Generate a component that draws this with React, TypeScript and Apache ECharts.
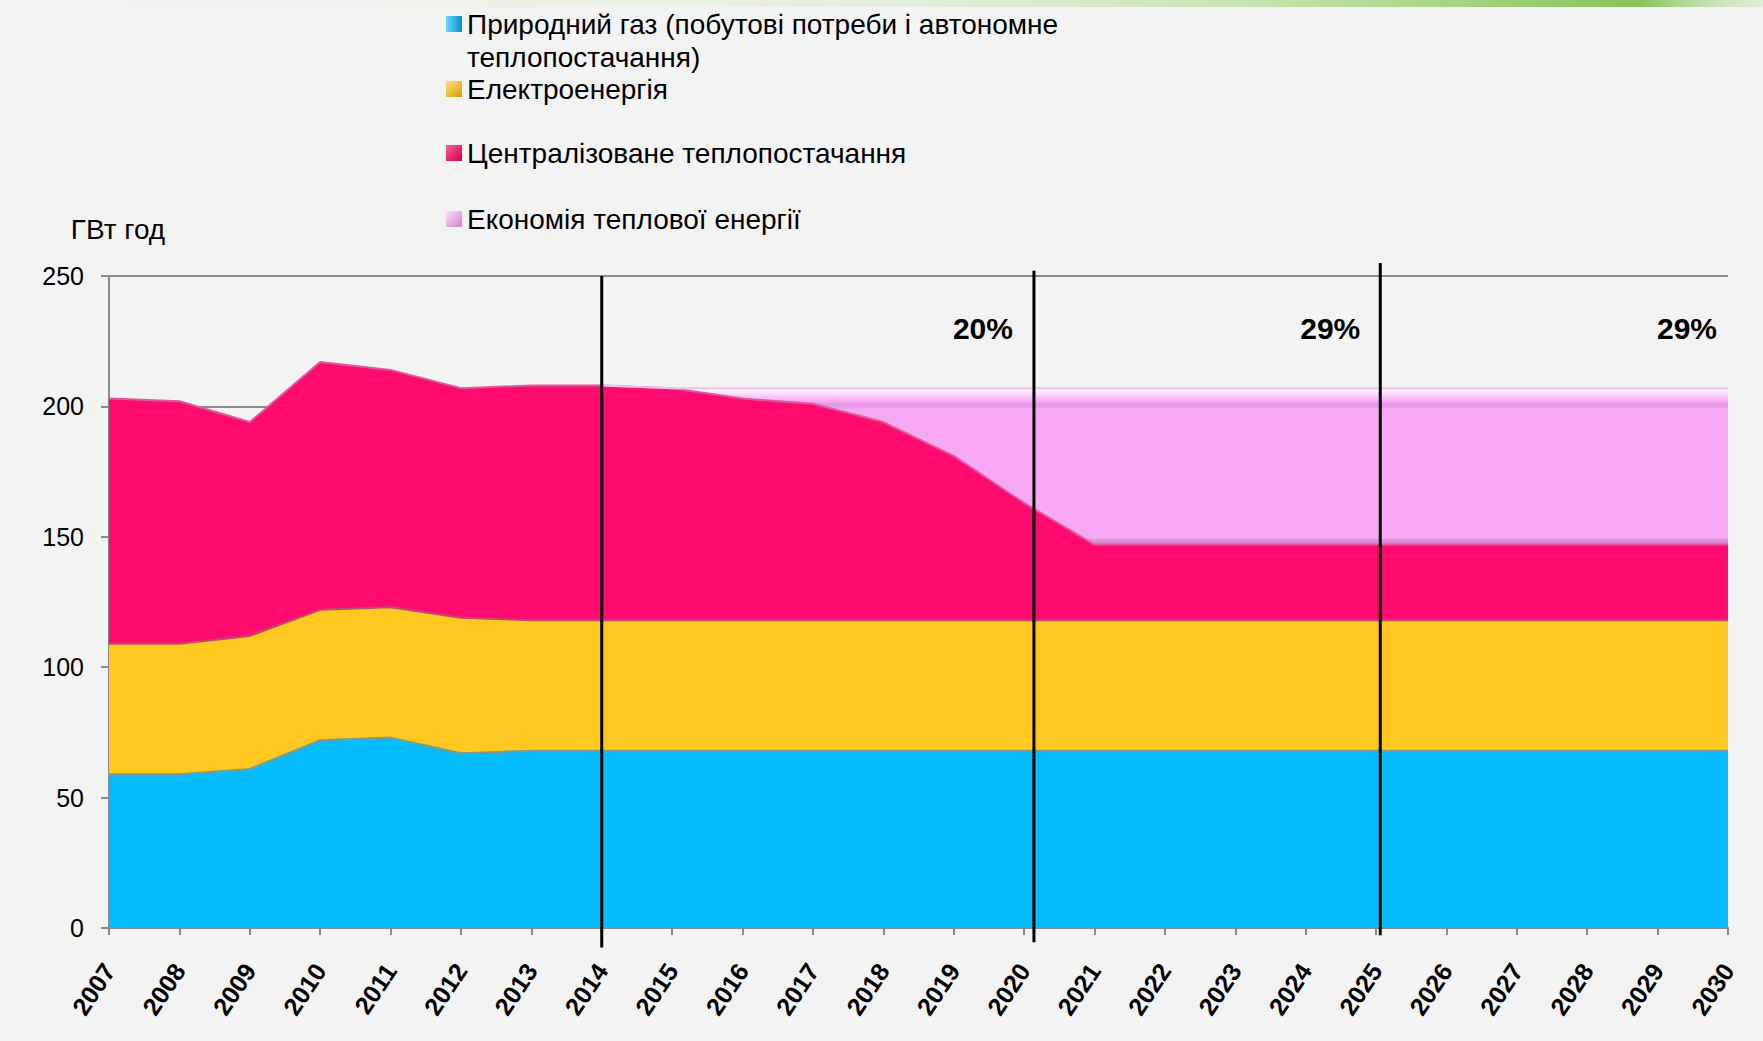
import React, { useEffect, useRef } from "react";
import * as echarts from "echarts";

const years = [
  "2007", "2008", "2009", "2010", "2011", "2012", "2013", "2014", "2015", "2016", "2017", "2018",
  "2019", "2020", "2021", "2022", "2023", "2024", "2025", "2026", "2027", "2028", "2029", "2030",
];

const gasName = "Природний газ (побутові потреби і автономне теплопостачання)";
const elecName = "Електроенергія";
const heatName = "Централізоване теплопостачання";
const saveName = "Економія теплової енергії";

const gas = [59, 59, 61, 72, 73, 67, 68, 68, 68, 68, 68, 68, 68, 68, 68, 68, 68, 68, 68, 68, 68, 68, 68, 68];
const electricity = [50, 50, 51, 50, 50, 52, 50, 50, 50, 50, 50, 50, 50, 50, 50, 50, 50, 50, 50, 50, 50, 50, 50, 50];
const districtHeating = [94, 93, 82, 95, 91, 88, 90, 90, 89, 85, 83, 76, 63, 45, 29, 29, 29, 29, 29, 29, 29, 29, 29, 29];
const savings = [null, null, null, null, null, null, null, 0, 0, 4, 6, 13, 26, 44, 60, 60, 60, 60, 60, 60, 60, 60, 60, 60];

const yTicks = [0, 50, 100, 150, 200, 250];

// annotations: divider lines (category position incl. fraction, value extent)
const dividerAt = [7.0, 13.14, 18.06];
const dividerTop = [250, 252, 255];
const dividerBottom = [-7.5, -5.5, -2.8];
const pctLabels = ["20%", "29%", "29%"];
const pctAt = [13.14, 18.06, 23];
const pctShift = [-21, -20, -11];
const pctValue = 230;

const FONT = "'Liberation Sans', Arial, sans-serif";

const BLUE = "#07bcfd";
const YELLOW = "#ffc71f";
const MAGENTA = "#ff0a6e";
const PINK = "#f7a8f5";

function iconGrad(light: string, dark: string, diag = true) {
  return new echarts.graphic.LinearGradient(0, 0, 1, diag ? 1 : 0, [
    { offset: 0, color: light },
    { offset: 1, color: dark },
  ]);
}

export default function App() {
  const ref = useRef<HTMLDivElement>(null);

  useEffect(() => {
    if (!ref.current) return;
    const chart = echarts.init(ref.current, undefined, { renderer: "svg" });

    const legendText = {
      fontSize: 28,
      fontFamily: FONT,
      color: "#000",
      lineHeight: 33,
    };
    const legendBase = {
      left: 446,
      orient: "vertical",
      icon: "rect",
      itemWidth: 16,
      itemHeight: 16,
      padding: 0,
      selectedMode: false,
    };

    const option: any = {
      animation: false,
      backgroundColor: "#f3f3f3",
      textStyle: { fontFamily: FONT },
      grid: { left: 109, right: 35, top: 276, bottom: 113, containLabel: false },
      legend: [
        {
          ...legendBase,
          top: 7.5,
          itemHeight: 49,
          icon: "path://M0,0L16,0L16,16L0,16Z M0,48.9L0.1,48.9L0.1,49L0,49Z",
          data: [{ name: gasName, itemStyle: { color: iconGrad("#6fd6ff", "#0592c4", false) } }],
          formatter: () => "Природний газ (побутові потреби і автономне\nтеплопостачання)",
          textStyle: legendText,
        },
        {
          ...legendBase,
          top: 72.5,
          data: [{ name: elecName, itemStyle: { color: iconGrad("#ffe27a", "#d99a00") } }],
          textStyle: legendText,
        },
        {
          ...legendBase,
          top: 136.5,
          data: [{ name: heatName, itemStyle: { color: iconGrad("#ff5c9c", "#c8004f") } }],
          textStyle: legendText,
        },
        {
          ...legendBase,
          top: 202.5,
          data: [{ name: saveName, itemStyle: { color: iconGrad("#fde0fc", "#d27fd0") } }],
          textStyle: legendText,
        },
      ],
      xAxis: {
        type: "category",
        data: years,
        boundaryGap: false,
        axisLine: { lineStyle: { color: "#8a8a8a", width: 2 } },
        axisTick: { show: true, length: 7, lineStyle: { color: "#8a8a8a", width: 2 } },
        axisLabel: {
          interval: 0,
          rotate: 56,
          margin: 38,
          fontSize: 25,
          fontWeight: "bold",
          color: "#000",
          fontFamily: FONT,
        },
        splitLine: { show: false },
      },
      yAxis: {
        type: "value",
        min: yTicks[0],
        max: yTicks[yTicks.length - 1],
        interval: 50,
        name: "ГВт год",
        nameLocation: "end",
        nameGap: 33,
        nameTextStyle: {
          fontSize: 28,
          color: "#000",
          fontFamily: FONT,
          align: "center",
          padding: [0, 0, 0, 18],
        },
        axisLine: { show: true, lineStyle: { color: "#8a8a8a", width: 2 } },
        axisTick: { show: true, length: 8, lineStyle: { color: "#8a8a8a", width: 2 } },
        axisLabel: { fontSize: 25, color: "#000", margin: 25, fontFamily: FONT },
        splitLine: { show: true, lineStyle: { color: "#8c8c8c", width: 2 } },
      },
      series: [
        {
          name: gasName,
          type: "line",
          stack: "total",
          data: gas,
          symbol: "none",
          itemStyle: { color: BLUE },
          lineStyle: { color: "#7f9c84", width: 2 },
          areaStyle: { color: BLUE, opacity: 1 },
        },
        {
          name: elecName,
          type: "line",
          stack: "total",
          data: electricity,
          symbol: "none",
          itemStyle: { color: YELLOW },
          lineStyle: { color: "#b8506a", width: 2 },
          areaStyle: { color: YELLOW, opacity: 1 },
        },
        {
          name: heatName,
          type: "line",
          stack: "total",
          data: districtHeating,
          symbol: "none",
          itemStyle: { color: MAGENTA },
          lineStyle: { color: "#e0589c", width: 2 },
          areaStyle: { color: MAGENTA, opacity: 1 },
        },
        {
          name: saveName,
          type: "line",
          stack: "total",
          data: savings,
          symbol: "none",
          itemStyle: { color: PINK },
          lineStyle: { color: "#f6c0f4", width: 2 },
          areaStyle: {
            opacity: 1,
            color: new echarts.graphic.LinearGradient(0, 0, 0, 1, [
              { offset: 0, color: "#f9c4f7" },
              { offset: 0.03, color: "#fff3ff" },
              { offset: 0.07, color: "#fbc6f9" },
              { offset: 0.1, color: PINK },
              { offset: 0.12, color: "#e395de" },
              { offset: 0.15, color: PINK },
              { offset: 0.955, color: PINK },
              { offset: 0.975, color: "#dd90d8" },
              { offset: 1, color: "#d486cf" },
            ]),
          },
        },
      ],
    };

    chart.setOption(option);

    const x0 = chart.convertToPixel({ xAxisIndex: 0 }, 0) as number;
    const x1 = chart.convertToPixel({ xAxisIndex: 0 }, 1) as number;
    const step = x1 - x0;
    const X = (f: number) => x0 + f * step;
    const Y = (v: number) => chart.convertToPixel({ yAxisIndex: 0 }, v) as number;

    const graphics: any[] = [];
    graphics.push({
      type: "rect",
      shape: { x: 0, y: 0, width: 1763, height: 7 },
      style: {
        fill: new echarts.graphic.LinearGradient(0, 0, 1, 0, [
          { offset: 0, color: "rgba(200,230,180,0)" },
          { offset: 0.5, color: "rgba(200,230,180,0.3)" },
          { offset: 0.7, color: "rgba(190,225,160,0.8)" },
          { offset: 0.93, color: "rgba(120,190,70,0.9)" },
          { offset: 1, color: "rgba(200,230,180,0.4)" },
        ]),
      },
      silent: true,
      z: -1,
    });
    dividerAt.forEach((f, i) => {
      graphics.push({
        type: "line",
        shape: { x1: X(f), y1: Y(dividerTop[i]), x2: X(f), y2: Y(dividerBottom[i]) },
        style: { stroke: "#000", lineWidth: 3 },
        z: 100,
        silent: true,
      });
    });
    pctLabels.forEach((t, i) => {
      graphics.push({
        type: "text",
        x: X(pctAt[i]) + pctShift[i],
        y: Y(pctValue),
        style: {
          text: t,
          fill: "#000",
          font: `bold 30px ${FONT}`,
          textAlign: "right",
          textVerticalAlign: "middle",
        },
        z: 100,
        silent: true,
      });
    });
    chart.setOption({ graphic: graphics });

    return () => chart.dispose();
  }, []);

  return (
    <div
      ref={ref}
      style={{ position: "fixed", left: 0, top: 0, width: 1763, height: 1041, background: "#f3f3f3" }}
    />
  );
}
